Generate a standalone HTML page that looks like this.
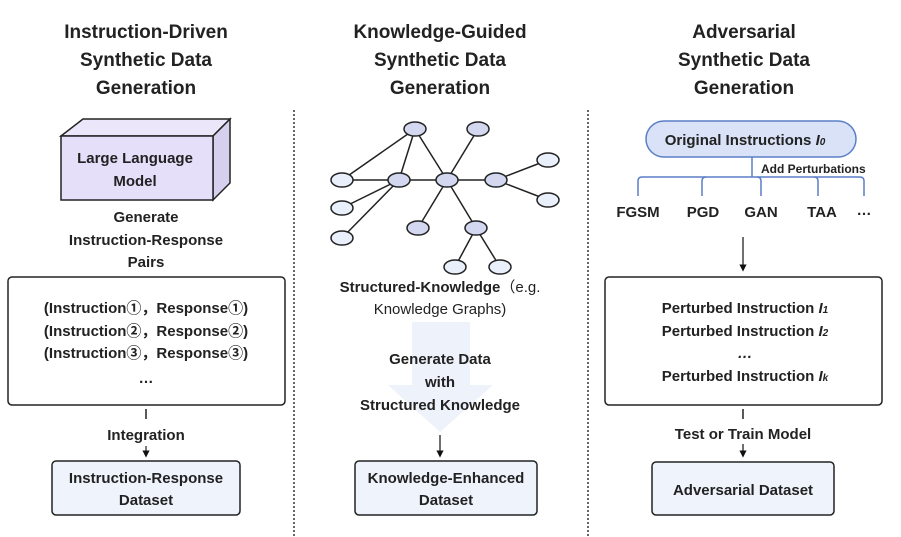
<!DOCTYPE html>
<html><head><meta charset="utf-8"><style>
html,body{margin:0;padding:0;background:#fff}
svg{display:block}
text{font-family:"Liberation Sans","Noto Sans CJK SC",sans-serif;fill:#222}
.t{font-size:19px;font-weight:bold;text-anchor:middle}
.b{font-size:15px;font-weight:bold;text-anchor:middle}
.n{font-size:15px;text-anchor:middle}
</style></head><body>
<svg width="901" height="537" viewBox="0 0 901 537" xmlns="http://www.w3.org/2000/svg">
<defs><marker id="ah" markerWidth="6" markerHeight="6" refX="3" refY="3" orient="auto"><path d="M0,0 L6,3 L0,6 z" fill="#111"/></marker></defs>
<line x1="294" y1="110" x2="294" y2="537" stroke="#333" stroke-width="1.5" stroke-dasharray="2,2"/>
<line x1="588" y1="110" x2="588" y2="537" stroke="#333" stroke-width="1.5" stroke-dasharray="2,2"/>
<text class="t" x="146" y="38">Instruction-Driven</text>
<text class="t" x="146" y="66">Synthetic Data</text>
<text class="t" x="146" y="94">Generation</text>
<text class="t" x="440" y="38">Knowledge-Guided</text>
<text class="t" x="440" y="66">Synthetic Data</text>
<text class="t" x="440" y="94">Generation</text>
<text class="t" x="744" y="38">Adversarial</text>
<text class="t" x="744" y="66">Synthetic Data</text>
<text class="t" x="744" y="94">Generation</text>

<polygon points="61,136 83,119 230,119 213,136" fill="#ebe6fa" stroke="#222" stroke-width="1.5"/>
<polygon points="213,136 230,119 230,183 213,200" fill="#d6cfee" stroke="#222" stroke-width="1.5"/>
<rect x="61" y="136" width="152" height="64" fill="#e5dffa" stroke="#222" stroke-width="1.5"/>
<text class="b" x="135" y="163">Large Language</text>
<text class="b" x="135" y="186">Model</text>
<text class="b" x="146" y="222">Generate</text>
<text class="b" x="146" y="245">Instruction-Response</text>
<text class="b" x="146" y="267">Pairs</text>
<rect x="8" y="277" width="277" height="128" rx="4" fill="#fff" stroke="#222" stroke-width="1.5"/>
<text class="b" x="146" y="313">(Instruction①，Response①)</text>
<text class="b" x="146" y="336">(Instruction②，Response②)</text>
<text class="b" x="146" y="358">(Instruction③，Response③)</text>
<text class="b" x="146" y="383">…</text>
<line x1="146" y1="409" x2="146" y2="419" stroke="#222" stroke-width="1.5"/>
<text class="b" x="146" y="440">Integration</text>
<line x1="146" y1="446" x2="146" y2="454" stroke="#222" stroke-width="1.2" marker-end="url(#ah)"/>
<rect x="52" y="461" width="188" height="54" rx="4" fill="#eef3fc" stroke="#222" stroke-width="1.5"/>
<text class="b" x="146" y="483">Instruction-Response</text>
<text class="b" x="146" y="505">Dataset</text>

<g stroke="#222" stroke-width="1.5">
<line x1="415" y1="129" x2="342" y2="180"/><line x1="415" y1="129" x2="399" y2="180"/>
<line x1="415" y1="129" x2="447" y2="180"/><line x1="478" y1="129" x2="447" y2="180"/>
<line x1="342" y1="180" x2="496" y2="180"/>
<line x1="496" y1="180" x2="548" y2="160"/><line x1="496" y1="180" x2="548" y2="200"/>
<line x1="399" y1="180" x2="342" y2="208"/><line x1="399" y1="180" x2="342" y2="238"/>
<line x1="447" y1="180" x2="418" y2="228"/><line x1="447" y1="180" x2="476" y2="228"/>
<line x1="476" y1="228" x2="455" y2="267"/><line x1="476" y1="228" x2="500" y2="267"/>
</g>
<g stroke="#222" stroke-width="1.5">
<ellipse cx="415" cy="129" rx="11" ry="7" fill="#d3d8f0"/>
<ellipse cx="478" cy="129" rx="11" ry="7" fill="#d3d8f0"/>
<ellipse cx="342" cy="180" rx="11" ry="7" fill="#eaf0fb"/>
<ellipse cx="399" cy="180" rx="11" ry="7" fill="#d3d8f0"/>
<ellipse cx="447" cy="180" rx="11" ry="7" fill="#d3d8f0"/>
<ellipse cx="496" cy="180" rx="11" ry="7" fill="#d3d8f0"/>
<ellipse cx="548" cy="160" rx="11" ry="7" fill="#eaf0fb"/>
<ellipse cx="548" cy="200" rx="11" ry="7" fill="#eaf0fb"/>
<ellipse cx="342" cy="208" rx="11" ry="7" fill="#eaf0fb"/>
<ellipse cx="342" cy="238" rx="11" ry="7" fill="#eaf0fb"/>
<ellipse cx="418" cy="228" rx="11" ry="7" fill="#d3d8f0"/>
<ellipse cx="476" cy="228" rx="11" ry="7" fill="#d3d8f0"/>
<ellipse cx="455" cy="267" rx="11" ry="7" fill="#eaf0fb"/>
<ellipse cx="500" cy="267" rx="11" ry="7" fill="#eaf0fb"/>
</g>
<text x="440" y="292" style="font-size:15px;text-anchor:middle"><tspan font-weight="bold">Structured-Knowledge</tspan>（e.g.</text>
<text class="n" x="440" y="314">Knowledge Graphs)</text>
<polygon points="412,322 470,322 470,385 493,385 440,432 388,385 412,385" fill="#eef2fb"/>
<text class="b" x="440" y="364">Generate Data</text>
<text class="b" x="440" y="387">with</text>
<text class="b" x="440" y="410">Structured Knowledge</text>
<line x1="440" y1="435" x2="440" y2="454" stroke="#111" stroke-width="1.2" marker-end="url(#ah)"/>
<rect x="355" y="461" width="182" height="54" rx="4" fill="#eef3fc" stroke="#222" stroke-width="1.5"/>
<text class="b" x="446" y="483">Knowledge-Enhanced</text>
<text class="b" x="446" y="505">Dataset</text>

<rect x="646" y="121" width="210" height="36" rx="18" fill="#d9e2f7" stroke="#5b7fc7" stroke-width="1.5"/>
<text class="b" x="745" y="145">Original Instructions <tspan font-style="italic">I</tspan><tspan font-style="italic" font-size="10">0</tspan></text>
<g stroke="#5b7fc7" stroke-width="1.5" fill="none">
<line x1="752" y1="157" x2="752" y2="177"/>
<path d="M638,196 V181 Q638,177 642,177 H860 Q864,177 864,181 V196"/>
<path d="M702,196 V181 Q702,177 706,177"/>
<path d="M757,177 Q761,177 761,181 V196"/>
<path d="M814,177 Q818,177 818,181 V196"/>
</g>
<text x="761" y="173" style="font-size:12px;font-weight:bold">Add Perturbations</text>
<text class="b" x="638" y="217">FGSM</text>
<text class="b" x="703" y="217">PGD</text>
<text class="b" x="761" y="217">GAN</text>
<text class="b" x="822" y="217">TAA</text>
<text class="b" x="864" y="215">…</text>
<line x1="743" y1="237" x2="743" y2="268" stroke="#111" stroke-width="1.2" marker-end="url(#ah)"/>
<rect x="605" y="277" width="277" height="128" rx="4" fill="#fff" stroke="#222" stroke-width="1.5"/>
<text class="b" x="745" y="313">Perturbed Instruction <tspan font-style="italic">I</tspan><tspan font-style="italic" font-size="10">1</tspan></text>
<text class="b" x="745" y="336">Perturbed Instruction <tspan font-style="italic">I</tspan><tspan font-style="italic" font-size="10">2</tspan></text>
<text class="b" x="745" y="358" font-style="italic">…</text>
<text class="b" x="745" y="381">Perturbed Instruction <tspan font-style="italic">I</tspan><tspan font-style="italic" font-size="10">k</tspan></text>
<line x1="743" y1="409" x2="743" y2="419" stroke="#222" stroke-width="1.5"/>
<text class="b" x="743" y="439">Test or Train Model</text>
<line x1="743" y1="444" x2="743" y2="454" stroke="#111" stroke-width="1.2" marker-end="url(#ah)"/>
<rect x="652" y="462" width="182" height="53" rx="4" fill="#eef3fc" stroke="#222" stroke-width="1.5"/>
<text class="b" x="743" y="495">Adversarial Dataset</text>
</svg>
</body></html>
